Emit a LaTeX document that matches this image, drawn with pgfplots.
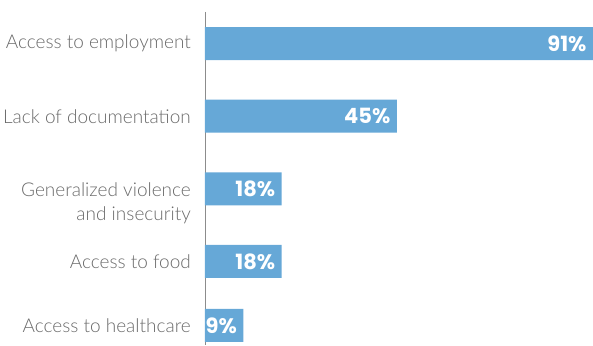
\documentclass[border=0pt]{standalone}
\usepackage{pgfplots}
\pgfplotsset{compat=1.18}
\usepackage{fontspec}
\setmainfont{Lato}
\newfontfamily\lblfont{Lato Light}
\newfontfamily\valfont{Poppins}
\definecolor{barblue}{HTML}{66A8D7}
\definecolor{lblgray}{HTML}{6A6A6A}
\begin{document}
\begin{tikzpicture}
\begin{axis}[
  scale only axis, width=388pt, height=333pt,
  xbar, xmin=0, xmax=91, ymin=-0.434, ymax=4.15, y dir=reverse,
  bar width=33pt,
  axis x line=none,
  axis y line*=left,
  y axis line style={-, draw=black!45, line width=0.8pt},
  ytick={0,1,2,3,3.88},
  yticklabels={Access to employment, Lack of documentation,
    {\raisebox{0pt}[\height][0pt]{\begin{tabular}[t]{@{}r@{}}Generalized violence\\[1pt]and insecurity\end{tabular}}},
    Access to food, Access to healthcare},
  major tick length=0pt,
  yticklabel style={font=\lblfont\fontsize{19}{23}\selectfont, text=lblgray, inner sep=0pt, xshift=-14pt},
  point meta=x,
  nodes near coords={\pgfmathprintnumber[assume math mode=true]{\pgfplotspointmeta}\%},
  nodes near coords align={anchor=east},
  every node near coord/.append style={font=\valfont\bfseries\fontsize{21}{21}\selectfont, text=white, xshift=-3pt},
]
\addplot[fill=barblue, draw=none] coordinates {(91,0) (45,1) (18,2) (18,3) (9,3.88)};
\end{axis}
\path[use as bounding box] (current axis.south west) ++(-205pt,0pt) rectangle ++(593pt,345pt);
\end{tikzpicture}
\end{document}
